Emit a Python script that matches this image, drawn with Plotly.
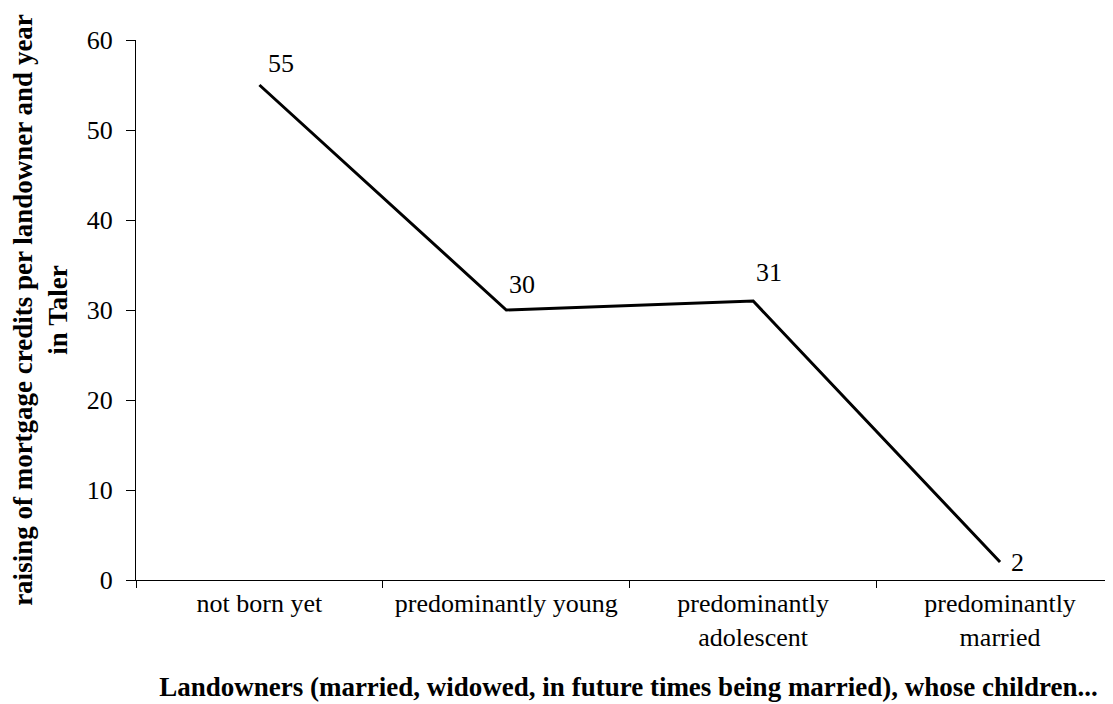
import plotly.graph_objects as go

categories = ["not born yet", "predominantly young", "predominantly<br>adolescent", "predominantly<br>married"]
values = [55, 30, 31, 2]
label_text = ["55", "30", "31", "2"]
label_dx = [22, 16, 16, 17]
label_dy = [22, 26, 29, 0]

FONT = "Liberation Serif, Times New Roman, serif"
FS = 26
FT = 27

fig = go.Figure()
fig.add_trace(go.Scatter(
    x=categories, y=values, mode="lines",
    line=dict(color="black", width=3),
    hoverinfo="skip", showlegend=False,
))

for c, v, t, dx, dy in zip(categories, values, label_text, label_dx, label_dy):
    fig.add_annotation(x=c, y=v, text=t, showarrow=False,
                       xanchor="center", yanchor="middle",
                       xshift=dx, yshift=dy,
                       font=dict(family=FONT, size=FS, color="black"))

fig.update_layout(
    width=1113, height=704,
    margin=dict(l=128, r=0, t=32, b=132),
    paper_bgcolor="white", plot_bgcolor="white",
    font=dict(family=FONT, size=FS, color="black"),
    xaxis=dict(
        type="category", range=[-0.5, 3.49], automargin=False,
        showline=True, linecolor="black", linewidth=1,
        ticks="outside", tickson="boundaries", ticklen=7, tickcolor="black",
        showgrid=False, zeroline=False,
        tickfont=dict(family=FONT, size=FS, color="black"),
        title=dict(text="<b>Landowners (married, widowed, in future times being married), whose children...</b>",
                   font=dict(family=FONT, size=FT, color="black"), standoff=26),
    ),
    yaxis=dict(
        range=[0, 60], dtick=10, automargin=False,
        showline=True, linecolor="black", linewidth=1,
        ticks="outside", ticklen=9, tickcolor="black",
        showgrid=False, zeroline=False,
        tickfont=dict(family=FONT, size=FS, color="black"),
        ticklabelstandoff=8,
        title=dict(text="<b>raising of mortgage credits per landowner and year<br>in Taler</b>",
                   font=dict(family=FONT, size=FT, color="black"), standoff=12),
    ),
)

fig.write_html("out.html")
